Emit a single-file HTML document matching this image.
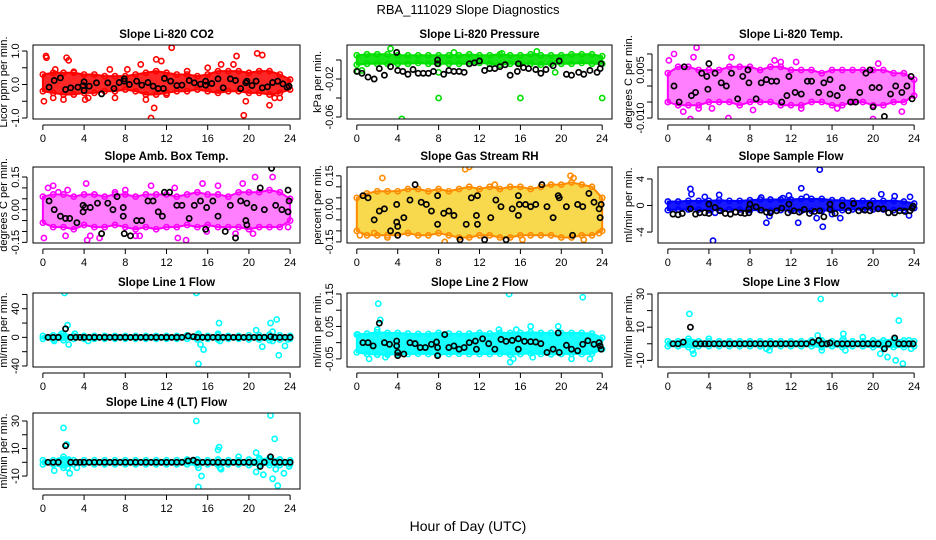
<!DOCTYPE html>
<html><head><meta charset="utf-8">
<style>
html,body{margin:0;padding:0;background:#fff;}
svg{display:block;font-family:"Liberation Sans",sans-serif;}
</style></head>
<body>
<svg id="chart" width="936" height="540" viewBox="0 0 936 540" xmlns="http://www.w3.org/2000/svg">
<text x="468" y="14" text-anchor="middle" font-size="13">RBA_111029  Slope Diagnostics</text>
<text x="468" y="531" text-anchor="middle" font-size="14">Hour of Day (UTC)</text>
</svg>
<script>
// ---- data (hour-of-day envelopes for dense clouds, plus individual points) ----
const hours = [0,1,2,3,4,5,6,7,8,9,10,11,12,13,14,15,16,17,18,19,20,21,22,23,24];
const xTicks = [0,4,8,12,16,20,24];

const co2Lo = [-0.2,-0.25,-0.3,-0.3,-0.25,-0.25,-0.2,-0.2,-0.15,-0.2,-0.3,-0.3,-0.25,-0.2,-0.2,-0.15,-0.2,-0.25,-0.2,-0.2,-0.25,-0.25,-0.3,-0.25,-0.15];
const co2Hi = [0.3,0.35,0.35,0.35,0.3,0.3,0.25,0.25,0.25,0.3,0.35,0.4,0.35,0.3,0.3,0.25,0.3,0.4,0.4,0.4,0.35,0.4,0.4,0.3,0.15];
const co2Out = [[0.3,0.85],[0.35,0.8],[2.3,0.8],[2.5,0.72],[0.1,-0.5],[1,-0.4],[2,-0.45],[4.1,-0.45],[4.4,-0.4],[6.5,0.45],[7,-0.4],[9.5,0.6],[10,-0.45],[10.5,-1.0],[10.8,-0.7],[11,0.75],[11.5,0.7],[12.5,1.1],[17.3,0.6],[18.8,0.85],[19.5,-0.92],[19.7,-0.5],[20.8,0.93],[21.3,0.88],[22,-0.62],[22.5,-0.4],[12,-0.3],[16,0.5],[18.5,0.6],[1.2,0.45],[3,0.38],[8.2,0.45],[14,0.4],[23,-0.4]];
const co2Blk = [[0.6,-0.08],[1.1,0.12],[1.7,0.2],[2.2,-0.15],[2.7,-0.1],[3.4,-0.08],[3.9,-0.03],[4,0.08],[4,-0.18],[4.5,-0.05],[5.2,0.05],[5.7,-0.28],[6.3,0.05],[6.9,-0.12],[7.4,0.06],[7.9,0.1],[7.9,0.17],[8.4,0],[9.1,0.1],[9.6,-0.02],[10.2,0.06],[10.7,-0.05],[11.2,-0.12],[11.7,-0.12],[11.8,0.18],[12.4,0.1],[13,-0.03],[13.5,-0.02],[14.2,0.12],[14.7,0.05],[15.3,0.01],[15.8,0.1],[15.8,-0.02],[16.4,0.03],[17,0.17],[17.5,-0.1],[18.2,0.17],[18.7,0.12],[19.2,-0.12],[19.7,0.05],[19.8,0.1],[20.3,-0.03],[20.7,0.1],[21.3,-0.1],[21.8,-0.07],[22.3,0.06],[22.8,0.1],[23.3,0.02],[23.7,-0.08],[23.9,-0.05]];

const presLo = [-0.005,-0.004,-0.004,-0.004,-0.004,-0.004,-0.003,-0.004,-0.004,-0.004,-0.004,-0.004,-0.003,-0.004,-0.005,-0.004,-0.004,-0.004,-0.005,-0.004,-0.004,-0.004,-0.003,-0.004,-0.004];
const presHi = [0.005,0.006,0.006,0.006,0.005,0.005,0.005,0.005,0.005,0.005,0.005,0.006,0.005,0.005,0.006,0.005,0.005,0.006,0.005,0.005,0.005,0.006,0.006,0.006,0.004];
const presOut = [[3.3,0.012],[0.1,-0.012],[4.4,-0.062],[8,-0.04],[16,-0.04],[24,-0.04],[0.5,-0.011],[9.5,0.008],[17.6,0.009],[19.4,-0.013],[8,-0.013],[14.2,0.007]];
const presBlk = [[0,-0.012],[0.5,-0.014],[1.1,-0.018],[1.7,-0.02],[2.2,-0.009],[2.7,-0.016],[3.3,-0.007],[3.9,0.008],[4,-0.011],[4.5,-0.012],[5,-0.015],[5.5,-0.01],[6,-0.014],[6.5,-0.014],[7,-0.014],[7.5,-0.012],[7.9,0],[7.9,-0.004],[8.5,-0.015],[9,-0.011],[9.5,-0.012],[10,-0.012],[10.5,-0.013],[11,-0.004],[11.5,-0.003],[12,-0.001],[12.5,-0.011],[13,-0.009],[13.5,-0.009],[14,-0.007],[14.5,-0.005],[15,-0.016],[15.7,-0.012],[15.8,-0.004],[16.3,-0.008],[16.8,-0.009],[17.5,-0.01],[18,-0.014],[18.5,-0.01],[19.2,-0.006],[19.8,-0.001],[20.5,-0.015],[21,-0.016],[21.7,-0.013],[22.2,-0.015],[22.8,-0.011],[23.5,-0.013],[23.8,-0.009],[23.9,-0.004]];

const tempLo = [-0.005,-0.006,-0.006,-0.006,-0.005,-0.005,-0.005,-0.006,-0.005,-0.005,-0.005,-0.006,-0.006,-0.006,-0.005,-0.005,-0.006,-0.006,-0.005,-0.005,-0.006,-0.006,-0.005,-0.005,-0.003];
const tempHi = [0.004,0.006,0.006,0.005,0.005,0.005,0.006,0.006,0.006,0.005,0.006,0.006,0.005,0.005,0.005,0.004,0.005,0.005,0.005,0.005,0.005,0.005,0.004,0.004,0.002];
const tempOut = [[0.1,0.008],[0.6,0.010],[2.5,0.009],[2.8,0.012],[5.9,-0.010],[2.2,-0.0103],[20,-0.0103],[1.5,-0.008],[3,-0.007],[10.4,0.008],[11,0.0075],[12.5,0.0075],[13,-0.007],[22.8,-0.008],[6.2,0.009],[20.5,0.007],[0,-0.005],[4.3,-0.007],[8.3,-0.0075],[16.5,-0.007]];
const tempBlk = [[0.6,0],[1.1,-0.005],[1.6,0.006],[2.3,-0.003],[2.7,-0.002],[3.3,0.004],[3.8,0.003],[3.9,-0.001],[4,0.007],[4.6,0.004],[5.2,0.001],[5.7,0],[6.2,0.004],[6.8,-0.004],[7.3,0.003],[7.8,0.005],[7.9,0.001],[8.6,-0.004],[9.1,0.001],[9.6,0.002],[10.1,0.0015],[10.6,0.0015],[11.1,-0.005],[11.6,-0.003],[11.8,0.003],[12.4,-0.002],[13,-0.0025],[13.6,0.0015],[14,0.0015],[14.7,-0.002],[15.2,0.001],[15.8,0.002],[15.8,-0.0025],[16.5,-0.003],[17,-0.0005],[17.8,-0.005],[18.3,-0.005],[18.7,-0.002],[19.3,0.004],[19.7,0.005],[19.9,-0.0005],[20,-0.0065],[20.6,-0.0005],[21.1,-0.0095],[21.7,-0.0025],[22.2,0],[22.8,-0.002],[23.3,0],[23.7,0.003],[23.8,-0.004]];

const ambLo = [-0.06,-0.08,-0.08,-0.09,-0.07,-0.08,-0.08,-0.07,-0.08,-0.09,-0.08,-0.09,-0.08,-0.08,-0.07,-0.08,-0.07,-0.08,-0.08,-0.08,-0.09,-0.08,-0.08,-0.08,-0.05];
const ambHi = [0.06,0.07,0.07,0.06,0.07,0.07,0.06,0.07,0.07,0.06,0.07,0.07,0.07,0.06,0.07,0.08,0.07,0.07,0.06,0.08,0.08,0.08,0.09,0.08,0.05];
const ambOut = [[0.1,-0.13],[0.5,0.1],[1,0.11],[1.5,0.08],[2.2,-0.12],[4.2,0.12],[4.3,-0.14],[4.6,-0.12],[5.5,-0.13],[8,0.09],[9,-0.12],[9.4,-0.12],[10.5,0.11],[12.1,-0.17],[12.8,0.1],[13.1,-0.13],[13.9,-0.14],[15.5,0.12],[15.9,-0.1],[18.7,-0.11],[19.4,0.12],[20.4,-0.11],[20.6,0.15],[22.3,0.15],[23.8,-0.08],[2.4,0.09],[7,0.08],[17,0.11]];
const ambBlk = [[0.6,0.04],[1.1,0],[1.7,-0.03],[2.2,-0.04],[2.6,-0.04],[3.3,-0.06],[3.9,0.02],[3.9,-0.01],[4.1,0.01],[4.6,0.01],[5.3,0.03],[5.7,-0.11],[6.3,0.03],[6.8,0],[7.2,0.06],[7.8,0.01],[7.8,-0.03],[7.9,-0.11],[8.5,-0.12],[9.1,-0.05],[9.6,-0.05],[10.2,0.04],[10.7,0.04],[11.2,-0.01],[11.6,-0.03],[11.8,0.08],[12.3,0.08],[13,0.02],[13.5,0.02],[14.2,-0.04],[14.7,0.02],[15.3,0.04],[15.8,-0.09],[15.9,0.01],[16.5,0.04],[17,-0.03],[17.7,-0.1],[18.2,0.02],[18.7,-0.13],[19.2,0.04],[19.7,-0.05],[19.8,0.03],[19.8,-0.07],[20.5,0.01],[21.1,0.1],[21.5,0],[22.2,0.19],[22.6,0.02],[23.2,0],[23.8,0.09],[23.8,-0.01],[23.9,0.04]];

const rhLo = [-0.1,-0.12,-0.12,-0.12,-0.12,-0.11,-0.12,-0.12,-0.11,-0.12,-0.13,-0.13,-0.12,-0.12,-0.13,-0.13,-0.12,-0.12,-0.12,-0.12,-0.13,-0.13,-0.12,-0.12,-0.1];
const rhHi = [0.05,0.07,0.08,0.08,0.08,0.09,0.09,0.08,0.09,0.08,0.09,0.1,0.09,0.1,0.09,0.1,0.1,0.09,0.1,0.11,0.11,0.12,0.11,0.1,0.05];
const rhOut = [[4.4,-0.2],[2.5,0.14],[11,0.19],[15.8,-0.2],[20.9,0.15],[21.2,0.14],[23.7,-0.11],[0.3,-0.12],[1.7,-0.11],[3,-0.13],[10.6,0.18],[8.6,-0.15],[13.5,0.11],[16.2,-0.14],[22.2,-0.14]];
const rhBlk = [[0.6,0.06],[1.1,0.05],[1.7,-0.05],[2.2,-0.01],[2.7,0],[3.3,-0.1],[3.9,0.02],[3.9,-0.06],[4,-0.08],[4,-0.12],[4.6,-0.04],[5.2,0.04],[5.7,0.11],[6.3,0.03],[6.8,0.02],[7.3,-0.01],[7.9,-0.07],[7.9,0.06],[8.5,-0.02],[9,-0.01],[9.5,-0.03],[10.1,-0.14],[10.7,-0.07],[11.2,0.05],[11.7,-0.03],[11.8,-0.07],[11.8,0.06],[12.5,-0.14],[13.1,-0.04],[13.6,0.04],[14.1,0.01],[14.6,-0.14],[15.2,0],[15.8,0.06],[15.9,0.02],[15.8,-0.03],[16.5,0.02],[17,0.01],[17.5,0.02],[18.1,0.11],[18.6,0.01],[19.2,-0.04],[19.7,0.06],[19.8,0.05],[20.5,0.01],[21.1,-0.12],[21.6,0.02],[22.1,0.01],[22.7,0.07],[23.2,0.03],[23.7,0],[23.8,-0.04],[23.9,0.02]];

const sfLo = [-0.7,-0.6,-0.6,-0.6,-0.7,-0.7,-0.6,-0.6,-0.7,-0.7,-0.8,-0.7,-0.8,-0.8,-0.8,-0.8,-0.7,-0.7,-0.6,-0.6,-0.6,-0.6,-0.7,-0.7,-0.4];
const sfHi = [0.6,0.6,0.7,0.7,0.7,0.8,0.7,0.7,0.8,0.9,0.9,0.9,0.9,1.0,1.0,1.0,0.8,0.8,0.7,0.7,0.7,0.7,0.7,0.6,0.3];
const sfOut = [[2.2,2.5],[2.3,1.7],[3.6,1.3],[5,1.6],[4.4,-5.3],[4.6,-1.1],[9.6,-2.6],[9.9,-1.6],[11.8,1.5],[12.7,-2.6],[13,2.6],[13.5,1.3],[14.5,-1.9],[14.8,5.4],[15.1,-3.2],[16,-1.3],[16.8,-1.9],[20.8,1.7],[22.1,1.4],[23.6,1.3],[23.5,-1.5],[9.1,1.2],[11.2,1.1]];
const sfBlk = [[0.5,-1.3],[1,-1.4],[1.4,-1.2],[2.2,-0.5],[2.7,-1.3],[3.1,-1.1],[3.6,-1.1],[4,0.2],[4,-1.2],[4.6,-0.3],[5.1,-0.8],[5.6,-1.2],[6.1,-1.3],[6.6,-1],[7.1,-1.1],[7.5,-1.2],[7.9,-0.5],[7.9,-1.1],[8,0.2],[8.6,-0.2],[9.1,-0.7],[9.6,-1],[10,-1.1],[10.6,-0.8],[11.1,-0.4],[11.7,-1.1],[11.8,0.2],[12.3,-0.8],[12.8,-1],[13.3,-0.6],[13.8,-1.2],[14.3,-0.9],[14.8,-0.8],[15.2,-1.7],[15.8,0.2],[15.8,-0.6],[16.3,-1.2],[17,0],[17.6,-0.8],[18.1,0.3],[18.6,-0.8],[19.2,-0.7],[19.7,0.1],[19.7,-0.8],[20.5,-0.5],[21,-0.5],[21.5,-1.1],[22.1,-1.1],[22.6,-0.8],[23.1,-0.9],[23.6,-0.8],[23.8,-0.4],[23.9,-0.1]];

const l1Lo = [-2,-3,-4,-2,-2,-2,-2,-2,-2,-2,-2,-2,-2,-2,-2,-3,-2,-3,-2,-2,-3,-3,-4,-3,-2];
const l1Hi = [2,3,5,2,2,2,2,2,2,2,2,2,2,2,3,3,2,3,2,2,3,3,4,3,2];
const l1Out = [[2.1,62],[2.4,17],[2.5,-10],[1.8,5],[1.1,-5],[3.1,5],[14.9,62],[15.1,5],[15.3,-10],[15.1,-37],[15.6,-17],[17.1,20],[17,5],[17.2,-5],[20.7,10],[21.3,-13],[22.1,20],[22.3,8],[22.3,-5],[22.7,25],[22.9,-25],[23.5,-12],[23.8,-3],[4.4,-5]];
const l1Blk = [[0.5,0],[1,0],[1.5,0],[2.2,12],[2.7,0],[3.2,0],[3.6,0],[4,0],[4.5,0],[5,0],[5.5,0],[6,0],[6.5,0],[7,0],[7.5,0],[8,0],[8.5,0],[9,0],[9.5,0],[10,0],[10.5,0],[11,0],[11.5,0],[12,0],[12.5,0],[13,0],[13.5,0],[14.1,2],[14.6,1],[15,0],[15.5,0],[16,0],[16.5,0],[17,0],[17.5,0],[18,0],[18.5,0],[19,0],[19.5,0],[20,0],[20.5,0],[21,0],[21.5,0],[22.1,1],[22.5,0],[23,0],[23.5,0],[24,0]];

const l2Lo = [-0.03,-0.035,-0.037,-0.037,-0.035,-0.035,-0.034,-0.035,-0.036,-0.035,-0.034,-0.035,-0.035,-0.035,-0.034,-0.037,-0.035,-0.033,-0.035,-0.036,-0.035,-0.034,-0.035,-0.034,-0.02];
const l2Hi = [0.025,0.028,0.032,0.03,0.03,0.028,0.027,0.027,0.03,0.028,0.027,0.028,0.03,0.028,0.03,0.03,0.03,0.032,0.03,0.03,0.03,0.03,0.03,0.028,0.015];
const l2Out = [[2.1,0.12],[2.3,0.07],[14.9,0.15],[22.1,0.14],[1.2,-0.05],[15,-0.06],[15.3,-0.05],[21,-0.05],[22.8,-0.05],[17,0.05],[19.7,0.05],[2,0.04],[0.1,0.025],[13.9,0.04],[15.6,0.04],[2.8,-0.045],[17.2,-0.045]];
const l2Blk = [[0.6,0],[1.1,0],[1.6,-0.01],[2.2,0.06],[2.7,0],[3.2,-0.005],[3.9,0.005],[3.9,-0.01],[4,-0.03],[4,-0.04],[4.6,-0.035],[5.2,0],[5.7,-0.003],[6.2,-0.015],[6.7,-0.015],[7.3,-0.005],[7.8,0.002],[7.9,-0.015],[7.9,-0.04],[8.6,0.025],[9,-0.015],[9.5,-0.01],[10,-0.02],[10.5,-0.015],[11,0],[11.6,0.005],[11.7,-0.02],[12.3,0.012],[12.9,-0.003],[13.5,-0.02],[14.1,0.01],[14.6,0.004],[15.2,0.007],[15.8,0.012],[15.8,-0.02],[16.4,0.004],[17,0.003],[17.5,0.002],[18,-0.003],[18.6,-0.03],[19.2,-0.02],[19.7,0.03],[19.8,-0.03],[20.5,-0.008],[21,-0.02],[21.6,-0.025],[22.1,-0.005],[22.6,0.006],[23.2,-0.005],[23.7,0],[23.8,-0.01],[23.9,-0.02]];

const l3Lo = [-1.5,-1.5,-2,-1.5,-1.5,-1.5,-1.5,-1.5,-1.5,-1.5,-1.5,-1.5,-1.5,-1.5,-1.5,-2,-1.5,-2,-1.5,-1.5,-2,-2,-2,-2,-1.5];
const l3Hi = [1.5,1.5,3,1.5,1.5,1.5,1.5,1.5,1.5,1.5,1.5,1.5,1.5,1.5,2,2,1.5,2,1.5,1.5,2,2,2.5,2,1.5];
const l3Out = [[2.1,18],[2.4,-4],[2.5,-6],[14.6,5],[14.9,27],[15,-4],[17.1,6],[17.1,3],[17.3,-4],[19,4],[20.7,-6],[21.4,-8],[22.1,30],[22.2,-10],[22.5,14],[22.9,-12],[23.7,-3],[23.5,2],[9.6,-3],[9.9,-4],[4,3]];
const l3Blk = [[0.5,0],[1,0],[1.5,1],[2.2,10],[2.7,0],[3.2,0],[3.6,0],[4,0],[4.5,0],[5,0],[5.5,0],[6,0],[6.5,0],[7,0],[7.5,0],[8,0],[8.5,0],[9,0],[9.5,0],[10,0],[10.5,0],[11,0],[11.5,0],[12,0],[12.5,0],[13,0],[13.5,0],[14.1,1],[14.7,2],[15,0],[15.5,0],[15.8,0.5],[16.5,0],[17,0],[17.5,0],[18,0],[18.5,0],[19,0],[19.5,0],[20,0],[20.5,0],[21.1,-3],[21.5,0],[22.1,3.5],[22.5,0],[23,0],[23.5,0],[23.9,0]];

const l4Lo = [-1.5,-1.5,-4,-1.5,-1.5,-1.5,-1.5,-1.5,-1.5,-1.5,-1.5,-1.5,-1.5,-1.5,-1.5,-2,-1.5,-2,-1.5,-1.5,-2,-2,-2,-2,-1.5];
const l4Hi = [1.5,1.5,4,1.5,1.5,1.5,1.5,1.5,1.5,1.5,1.5,1.5,1.5,1.5,2,2,1.5,2,1.5,1.5,2,2,3,2,1.5];
const l4Out = [[2,25],[2.3,13],[2.5,2],[2.6,-8],[2.4,-4],[1.1,-6],[3.3,-4],[14.9,30],[15.1,-4],[15.1,-18],[15.4,-10],[17,9],[17.1,11],[17.2,-4],[17.3,-5],[19,4],[20.7,7],[20.7,-7],[21,3],[21.4,-9],[22.1,34],[22.3,-12],[22.5,17],[22.6,-5],[22.8,-17],[23.4,-8],[23.9,-3]];
const l4Blk = [[0.5,0],[1,0],[1.5,0],[2.2,12],[2.7,0],[3.2,0],[3.6,0],[4,0],[4.5,0],[5,0],[5.5,0],[6,0],[6.5,0],[7,0],[7.5,0],[8,0],[8.5,0],[9,0],[9.5,0],[10,0],[10.5,0],[11,0],[11.5,0],[12,0],[12.5,0],[13,0],[13.5,0],[14.1,1],[14.6,1.5],[15,0],[15.5,0],[16,0],[16.5,0],[17,0],[17.5,0],[18,0],[18.5,0],[19,0],[19.5,0],[20,0],[20.5,0],[21.1,-3],[21.5,0],[22.1,4],[22.5,0],[23,0],[23.5,0],[24,0]];

// ---- panel layout ----
const cols = [[33,300],[347,612],[658,924]];
const rows = [[45,119],[167,243],[293,367],[413,489]];
const panels = [
 {id:'co2',title:'Slope Li-820 CO2',yt:'Licor ppm per min.',c:0,r:0,ylim:[-1.03,1.18],ticks:[-1,-0.5,0,0.5,1],labels:{'-1':'-1.0','0':'0.0','1':'1.0'},col:'#ff0000',fill:'#ff0000',op:0.85,lo:co2Lo,hi:co2Hi,out:co2Out,blk:co2Blk},
 {id:'pressure',title:'Slope Li-820 Pressure',yt:'kPa per min.',c:1,r:0,ylim:[-0.0621,0.0158],ticks:[-0.06,-0.04,-0.02,0],labels:{'-0.06':'-0.06','-0.02':'-0.02'},col:'#00e000',fill:'#00e000',op:0.9,lo:presLo,hi:presHi,out:presOut,blk:presBlk},
 {id:'temp',title:'Slope Li-820 Temp.',yt:'degrees C per min.',c:2,r:0,ylim:[-0.0103,0.0128],ticks:[-0.01,-0.005,0,0.005,0.01],labels:{'-0.01':'-0.010','0.005':'0.005'},col:'#ff00ff',fill:'#ff00ff',op:0.5,lo:tempLo,hi:tempHi,out:tempOut,blk:tempBlk},
 {id:'amb-box-temp',title:'Slope Amb. Box Temp.',yt:'degrees C per min.',c:0,r:1,ylim:[-0.153,0.196],ticks:[-0.15,-0.1,-0.05,0,0.05,0.1,0.15],labels:{'-0.15':'-0.15','0':'0.00','0.15':'0.15'},col:'#ff00ff',fill:'#ff00ff',op:0.5,lo:ambLo,hi:ambHi,out:ambOut,blk:ambBlk},
 {id:'gas-stream-rh',title:'Slope Gas Stream RH',yt:'percent per min.',c:1,r:1,ylim:[-0.155,0.19],ticks:[-0.15,-0.1,-0.05,0,0.05,0.1,0.15],labels:{'-0.15':'-0.15','0':'0.00','0.15':'0.15'},col:'#ff8c00',fill:'#f5c800',op:0.7,lo:rhLo,hi:rhHi,out:rhOut,blk:rhBlk},
 {id:'sample-flow',title:'Slope Sample Flow',yt:'ml/min per min.',c:2,r:1,ylim:[-5.65,5.8],ticks:[-4,0,4],labels:{'-4':'-4','0':'0','4':'4'},col:'#0000ff',fill:'#0000ff',op:0.9,lo:sfLo,hi:sfHi,out:sfOut,blk:sfBlk},
 {id:'line1-flow',title:'Slope Line 1 Flow',yt:'ml/min per min.',c:0,r:2,ylim:[-41.4,62],ticks:[-40,-20,0,20,40,60],labels:{'-40':'-40','0':'0','40':'40'},col:'#00ffff',fill:'#00ffff',op:0.9,lo:l1Lo,hi:l1Hi,out:l1Out,blk:l1Blk},
 {id:'line2-flow',title:'Slope Line 2 Flow',yt:'ml/min per min.',c:1,r:2,ylim:[-0.075,0.153],ticks:[-0.05,0,0.05,0.1,0.15],labels:{'-0.05':'-0.05','0.05':'0.05','0.15':'0.15'},col:'#00ffff',fill:'#00ffff',op:0.9,lo:l2Lo,hi:l2Hi,out:l2Out,blk:l2Blk},
 {id:'line3-flow',title:'Slope Line 3 Flow',yt:'ml/min per min.',c:2,r:2,ylim:[-14,30.6],ticks:[-10,0,10,20,30],labels:{'-10':'-10','10':'10','30':'30'},col:'#00ffff',fill:'#00ffff',op:0.9,lo:l3Lo,hi:l3Hi,out:l3Out,blk:l3Blk},
 {id:'line4-flow',title:'Slope Line 4 (LT) Flow',yt:'ml/min per min.',c:0,r:3,ylim:[-19.4,35.8],ticks:[-10,0,10,20,30],labels:{'-10':'-10','10':'10','30':'30'},col:'#00ffff',fill:'#00ffff',op:0.9,lo:l4Lo,hi:l4Hi,out:l4Out,blk:l4Blk}
];

const NS='http://www.w3.org/2000/svg';
const svg=document.getElementById('chart');
function mk(tag,attrs,parent){const e=document.createElementNS(NS,tag);for(const k in attrs)e.setAttribute(k,attrs[k]);(parent||svg).appendChild(e);return e;}

panels.forEach(p=>{
  const [x0,x1]=cols[p.c],[y0,y1]=rows[p.r];
  const xlim=[-0.96,24.96];
  const sx=v=>x0+(v-xlim[0])/(xlim[1]-xlim[0])*(x1-x0);
  const sy=v=>y1-(v-p.ylim[0])/(p.ylim[1]-p.ylim[0])*(y1-y0);
  const g=mk('g',{});
  
  
  const t=mk('text',{x:(x0+x1)/2,y:y0-7,'text-anchor':'middle','font-size':'11.5','font-weight':'bold'},g);
  t.textContent=p.title;
  
  
  const clip=mk('clipPath',{id:'clip-'+p.id},g);
  mk('rect',{x:x0,y:y0,width:x1-x0,height:y1-y0},clip);
  const plot=mk('g',{'clip-path':'url(#clip-'+p.id+')'},g);
  let d='M'+hours.map((h,i)=>sx(h)+','+sy(p.hi[i])).join('L');
  d+='L'+hours.slice().reverse().map((h,j)=>{const i=hours.length-1-j;return sx(h)+','+sy(p.lo[i]);}).join('L')+'Z';
  const band=mk('path',{d:d,fill:p.fill,'fill-opacity':p.op,stroke:p.col,'stroke-width':2,'stroke-linejoin':'round'},plot);
  
  
  hours.forEach((h,i)=>{
    [p.lo[i],p.hi[i]].forEach(v=>{
      const c=mk('circle',{cx:sx(h),cy:sy(v),r:2.6,fill:'none',stroke:p.col,'stroke-width':1.6},plot);
      
      
    });
  });
  p.out.forEach(([h,v])=>{
    const c=mk('circle',{cx:sx(h),cy:sy(v),r:2.6,fill:'none',stroke:p.col,'stroke-width':1.6},plot);
    
    
  });
  p.blk.forEach(([h,v])=>{
    const c=mk('circle',{cx:sx(h),cy:sy(v),r:2.6,fill:'none',stroke:'#000','stroke-width':1.7},plot);
    
    
  });
  const box=mk('rect',{x:x0,y:y0,width:x1-x0,height:y1-y0,fill:'none',stroke:'#000','stroke-width':1},g);
  
  
  mk('line',{x1:sx(0),x2:sx(24),y1:y1+6,y2:y1+6,stroke:'#000'},g);
  xTicks.forEach(v=>{
    mk('line',{x1:sx(v),x2:sx(v),y1:y1+6,y2:y1+11,stroke:'#000'},g);
    const l=mk('text',{x:sx(v),y:y1+23,'text-anchor':'middle','font-size':'11'},g);
    l.textContent=v;
    
    
  });
  const tk=p.ticks;
  mk('line',{x1:x0-6,x2:x0-6,y1:sy(tk[0]),y2:sy(tk[tk.length-1]),stroke:'#000'},g);
  tk.forEach(v=>{
    mk('line',{x1:x0-11,x2:x0-6,y1:sy(v),y2:sy(v),stroke:'#000'},g);
    const lab=p.labels[String(v)];
    if(lab!==undefined){
      const l=mk('text',{x:x0-14,y:sy(v),'text-anchor':'middle','font-size':'11',transform:'rotate(-90 '+(x0-14)+' '+sy(v)+')'},g);
      l.textContent=lab;
      
      
    }
  });
  const yt=mk('text',{x:x0-26,y:(y0+y1)/2,'text-anchor':'middle','font-size':'11',transform:'rotate(-90 '+(x0-26)+' '+((y0+y1)/2)+')'},g);
  yt.textContent=p.yt;
  
  
});
</script>
</body></html>
